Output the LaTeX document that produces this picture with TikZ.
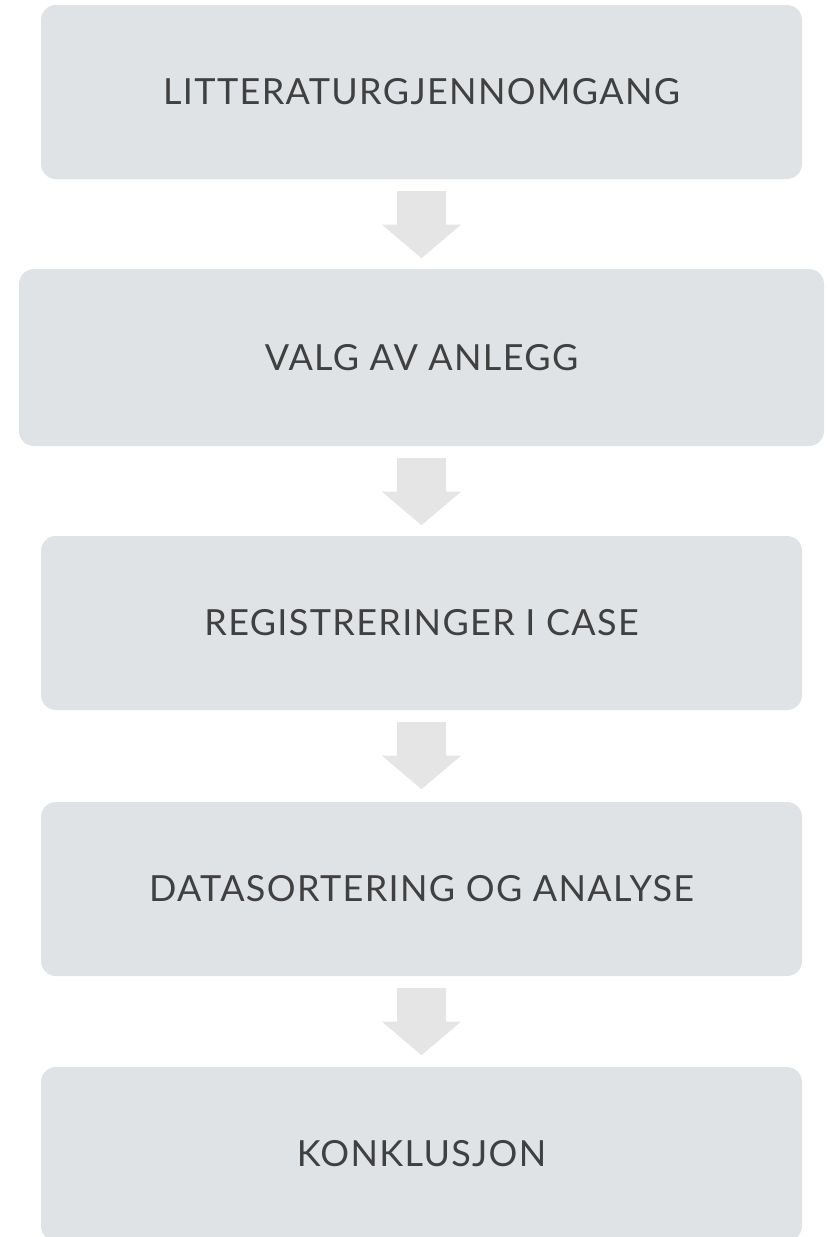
\documentclass[tikz,border=0pt]{standalone}
\usepackage{fontspec}
\setmainfont{Lato}
\newfontfamily\stagefont[LetterSpace=3.7]{Lato}
\usetikzlibrary{calc}
\definecolor{boxfill}{HTML}{E0E3E6}
\definecolor{arrowfill}{HTML}{E5E5E6}
\definecolor{labeltext}{HTML}{404040}
\tikzset{
  stage/.style={fill=boxfill, rounded corners=15pt, minimum width=761pt,
    minimum height=174pt, inner sep=0pt, text=labeltext,
    font=\stagefont\fontsize{36}{40}\selectfont},
  flowarrow/.style={fill=arrowfill}
}
\begin{document}
\begin{tikzpicture}[x=1pt,y=-1pt]
\useasboundingbox (0,0) rectangle (829,1237);
\node[stage] (s1) at (421.5,92) {LITTERATURGJENNOMGANG};
\node[stage, minimum width=805pt, minimum height=177pt] (s2) at (421.5,357.5) {VALG AV ANLEGG};
\node[stage] (s3) at (421.5,623) {REGISTRERINGER I CASE};
\node[stage] (s4) at (421.5,889) {DATASORTERING OG ANALYSE};
\node[stage] (s5) at (421.5,1154) {KONKLUSJON};
% block arrows between consecutive stages
\foreach \a/\b in {s1/s2,s2/s3,s3/s4,s4/s5}{
  \fill[flowarrow]
    ($(\a.south)+(-24.5,12)$) -- ($(\a.south)+(24.5,12)$)
    -- ($(\a.south)+(24.5,45.5)$) -- ($(\a.south)+(39.5,45.5)$)
    -- ($(\a.south)+(0,79)$) -- ($(\a.south)+(-39.5,45.5)$)
    -- ($(\a.south)+(-24.5,45.5)$) -- cycle;
}
\end{tikzpicture}
\end{document}
